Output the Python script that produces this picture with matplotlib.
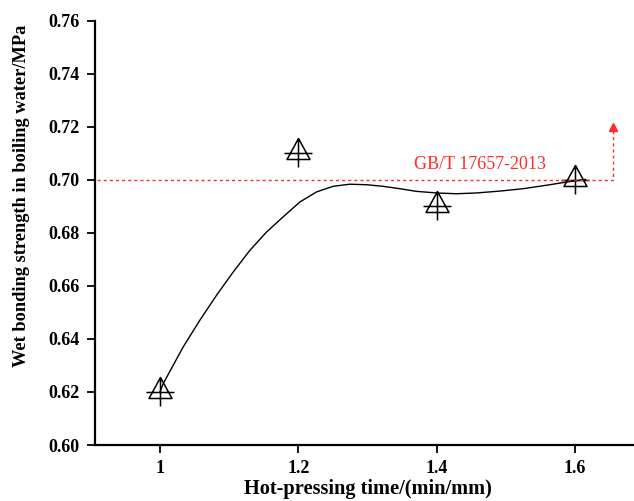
import numpy as np
import matplotlib
matplotlib.use("Agg")
import matplotlib.pyplot as plt
from matplotlib.path import Path

plt.rcParams['font.family'] = ['Liberation Serif', 'DejaVu Serif']

# measured points
time_x = [1.0, 1.2, 1.4, 1.6]
strength = [0.62, 0.71, 0.69, 0.70]

# fitted curve
curve_x = [1.0, 1.0048, 1.0336, 1.0578, 1.0819, 1.1058, 1.1300, 1.1541, 1.1780,
           1.2022, 1.2263, 1.2502, 1.2744, 1.2985, 1.3224, 1.3466, 1.3707,
           1.3996, 1.4284, 1.4573, 1.4910, 1.5246, 1.5584, 1.5873, 1.6065, 1.615]
curve_y = [0.620, 0.6232, 0.6370, 0.6471, 0.6565, 0.6652, 0.6734, 0.6803, 0.6860,
           0.6916, 0.6954, 0.6975, 0.6983, 0.6981, 0.6975, 0.6966, 0.6956,
           0.6950, 0.6947, 0.6950, 0.6957, 0.6966, 0.6979, 0.6991, 0.6998, 0.7001]

std_value = 0.70
std_label = "GB/T 17657-2013"
std_end_x = 1.655
std_arrow_top = 0.7212

xticks = [1.0, 1.2, 1.4, 1.6]
xticklabels = ["1", "1.2", "1.4", "1.6"]
yticks = [0.60, 0.62, 0.64, 0.66, 0.68, 0.70, 0.72, 0.74, 0.76]

# triangle with a cross through it
verts = [(-14, 0), (14, 0), (0, -14), (0, 14),
         (-11.5, -6), (11.5, -6), (0, 15), (-11.5, -6)]
codes = [Path.MOVETO, Path.LINETO, Path.MOVETO, Path.LINETO,
         Path.MOVETO, Path.LINETO, Path.LINETO, Path.CLOSEPOLY]
tri_cross = Path(verts, codes)

fig = plt.figure(figsize=(6.34, 5.01), dpi=100)
ax = fig.add_axes([95/634, 56/501, 1 - 95/634, 424.5/501])

ax.plot(curve_x, curve_y, color='black', lw=1.0)
ax.plot(time_x, strength, linestyle='none', marker=tri_cross, markersize=21.6,
        markerfacecolor='none', markeredgecolor='black', markeredgewidth=1.1)

# standard line with arrow
ax.plot([0.9, std_end_x, std_end_x], [std_value, std_value, std_arrow_top - 0.002],
        color='#ff2a2a', lw=1.0, linestyle=(0, (2.2, 2.2)))
ax.plot([std_end_x], [std_arrow_top - 0.0012], marker='^', color='#ff2a2a',
        markersize=6, linestyle='none')
ax.text(1.463, 0.7058, std_label, color='#ff2a2a', fontsize=13,
        ha='center', va='center')

ax.set_xlim(0.9061, 1.685)
ax.set_ylim(0.60, 0.76)
ax.set_xticks(xticks)
ax.set_xticklabels(xticklabels)
ax.set_yticks(yticks)
ax.set_yticklabels([f"{v:.2f}" for v in yticks])

for s in ['top', 'right']:
    ax.spines[s].set_visible(False)
for s in ['left', 'bottom']:
    ax.spines[s].set_linewidth(1.6)
ax.tick_params(direction='out', length=6, width=1.3, labelsize=13, pad=5)
for lab in ax.get_xticklabels() + ax.get_yticklabels():
    lab.set_fontweight('bold')

ax.set_xlabel("Hot-pressing time/(min/mm)", fontsize=14.7, fontweight='bold')
ax.xaxis.set_label_coords(0.507, -0.08)
ax.set_ylabel("Wet bonding strength in boiling water/MPa", fontsize=13.2,
              fontweight='bold')
ax.yaxis.set_label_coords(-0.121, 0.587)

fig.savefig("out.png", dpi=100)
